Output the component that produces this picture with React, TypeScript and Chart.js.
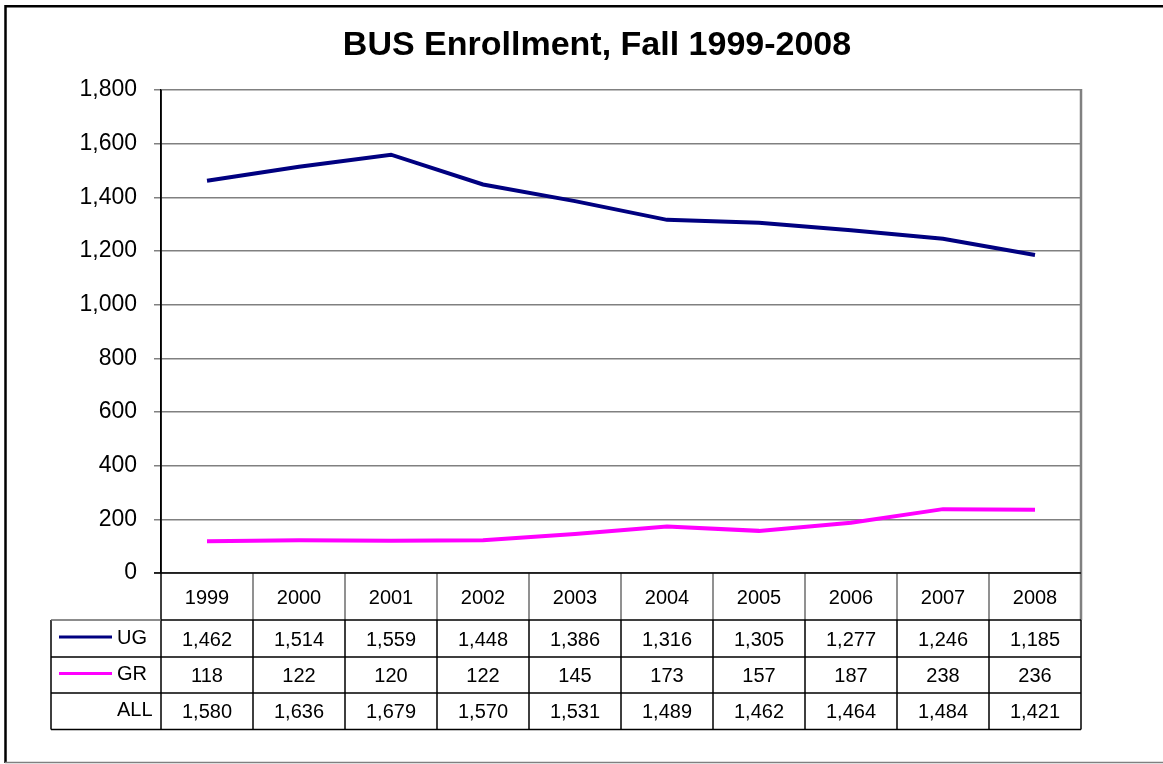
import React, { useEffect, useRef } from "react";
import { Chart, registerables } from "chart.js";

Chart.register(...registerables);

const TITLE = "BUS Enrollment, Fall 1999-2008";
const years = ["1999", "2000", "2001", "2002", "2003", "2004", "2005", "2006", "2007", "2008"];
const ugValues = [1462, 1514, 1559, 1448, 1386, 1316, 1305, 1277, 1246, 1185];
const grValues = [118, 122, 120, 122, 145, 173, 157, 187, 238, 236];
const allValues = [1580, 1636, 1679, 1570, 1531, 1489, 1462, 1464, 1484, 1421];
const yTicks = [0, 200, 400, 600, 800, 1000, 1200, 1400, 1600, 1800];

const UG_COLOR = "#000080";
const GR_COLOR = "#FF00FF";
const FONT = "'Liberation Sans', Arial, Helvetica, sans-serif";

const fmt = (v: number) => v.toLocaleString("en-US");

const framePlugin = {
  id: "frame",
  beforeDraw(chart: any) {
    const ctx = chart.ctx;
    ctx.save();
    ctx.fillStyle = "#ffffff";
    ctx.fillRect(0, 0, chart.width, chart.height);
    // outer chart frame
    ctx.strokeStyle = "#000";
    ctx.lineWidth = 2.5;
    ctx.beginPath();
    ctx.moveTo(5.5, 763);
    ctx.lineTo(5.5, 6.2);
    ctx.lineTo(chart.width, 6.2);
    ctx.stroke();
    ctx.strokeStyle = "#808080";
    ctx.lineWidth = 1.5;
    ctx.beginPath();
    ctx.moveTo(5, 762.5);
    ctx.lineTo(chart.width, 762.5);
    ctx.stroke();
    // title
    ctx.fillStyle = "#000";
    ctx.font = `bold 34px ${FONT}`;
    ctx.textAlign = "center";
    ctx.textBaseline = "alphabetic";
    ctx.fillText(TITLE, 597, 55);
    ctx.restore();
  },
};

const tablePlugin = {
  id: "dataTable",
  afterDraw(chart: any) {
    const ctx = chart.ctx;
    const { left, right, top, bottom } = chart.chartArea;
    const xs = chart.scales.x;
    const n = years.length;
    const centers = years.map((_, i) => xs.getPixelForValue(i));
    const half = (centers[1] - centers[0]) / 2;
    const edges = [left, ...centers.map((c) => c + half)];
    edges[n] = right;
    const rowEdges = [bottom, 620, 657, 693, 729.5];
    const tableLeft = 51;
    const legendX0 = 59;
    const legendX1 = 112;
    const labelX = 117;

    ctx.save();
    // plot right border
    ctx.strokeStyle = "#808080";
    ctx.lineWidth = 2.5;
    ctx.beginPath();
    ctx.moveTo(right, top - 1);
    ctx.lineTo(right, rowEdges[1]);
    ctx.stroke();

    // header row verticals (gray)
    ctx.lineWidth = 1.5;
    ctx.strokeStyle = "#6e6e6e";
    ctx.beginPath();
    for (let i = 1; i < n; i++) {
      ctx.moveTo(edges[i], rowEdges[0]);
      ctx.lineTo(edges[i], rowEdges[1]);
    }
    ctx.stroke();

    // black lines: axis at 0, left axis extension, data rows grid
    ctx.strokeStyle = "#000";
    ctx.lineWidth = 1.5;
    ctx.beginPath();
    ctx.moveTo(left - 7, bottom);
    ctx.lineTo(right, bottom);
    ctx.moveTo(left, top);
    ctx.lineTo(left, rowEdges[4]);
    for (let r = 1; r <= 4; r++) {
      ctx.moveTo(r === 1 ? left : tableLeft, rowEdges[r]);
      ctx.lineTo(right, rowEdges[r]);
    }
    ctx.moveTo(tableLeft, rowEdges[1]);
    ctx.lineTo(tableLeft, rowEdges[4]);
    for (let i = 1; i <= n; i++) {
      ctx.moveTo(edges[i], rowEdges[1]);
      ctx.lineTo(edges[i], rowEdges[4]);
    }
    ctx.stroke();
    ctx.strokeStyle = "#666";
    ctx.beginPath();
    ctx.moveTo(tableLeft, rowEdges[1]);
    ctx.lineTo(left, rowEdges[1]);
    ctx.stroke();

    // texts
    ctx.fillStyle = "#000";
    ctx.font = `20px ${FONT}`;
    ctx.textBaseline = "middle";
    ctx.textAlign = "center";
    const headerY = (rowEdges[0] + rowEdges[1]) / 2 + 1.5;
    years.forEach((y, i) => ctx.fillText(y, centers[i], headerY));
    const rows = [
      { label: "UG", values: ugValues, color: UG_COLOR },
      { label: "GR", values: grValues, color: GR_COLOR },
      { label: "ALL", values: allValues, color: null as string | null },
    ];
    rows.forEach((row, r) => {
      const cy = (rowEdges[r + 1] + rowEdges[r + 2]) / 2 + 1.5;
      ctx.textAlign = "center";
      ctx.fillStyle = "#000";
      row.values.forEach((v, i) => ctx.fillText(fmt(v), centers[i], cy));
      ctx.textAlign = "left";
      ctx.fillText(row.label, labelX, cy - 2);
      if (row.color) {
        ctx.strokeStyle = row.color;
        ctx.lineWidth = 3;
        ctx.beginPath();
        ctx.moveTo(legendX0, cy - 3);
        ctx.lineTo(legendX1, cy - 3);
        ctx.stroke();
      }
    });
    ctx.restore();
  },
};

export default function App() {
  const ref = useRef<HTMLCanvasElement | null>(null);

  useEffect(() => {
    if (!ref.current) return;
    const chart = new Chart(ref.current, {
      type: "line",
      data: {
        labels: years,
        datasets: [
          {
            label: "UG",
            data: ugValues,
            borderColor: UG_COLOR,
            backgroundColor: UG_COLOR,
            borderWidth: 4,
            pointRadius: 0,
            tension: 0,
          },
          {
            label: "GR",
            data: grValues,
            borderColor: GR_COLOR,
            backgroundColor: GR_COLOR,
            borderWidth: 4,
            pointRadius: 0,
            tension: 0,
          },
        ],
      },
      options: {
        animation: false,
        responsive: true,
        maintainAspectRatio: false,
        layout: { padding: { top: 90, right: 82, bottom: 191, left: 0 } },
        plugins: {
          legend: { display: false },
          title: { display: false },
          tooltip: { enabled: false },
        },
        scales: {
          x: {
            display: false,
            offset: true,
          },
          y: {
            min: 0,
            max: 1800,
            afterBuildTicks: (scale: any) => {
              scale.ticks = yTicks.map((v) => ({ value: v }));
            },
            afterFit: (scale: any) => {
              scale.width = 161;
            },
            ticks: {
              color: "#000",
              padding: 17,
              font: { family: FONT, size: 23 },
              callback: (v: any) => fmt(Number(v)),
            },
            grid: {
              color: "#808080",
              lineWidth: 1.5,
              tickLength: 7,
              drawTicks: true,
            },
            border: { color: "#000", width: 1.5 },
          },
        },
      },
      plugins: [framePlugin, tablePlugin],
    });
    return () => chart.destroy();
  }, []);

  return (
    <div style={{ position: "absolute", left: 0, top: 0, width: 1163, height: 764, background: "#fff" }}>
      <canvas ref={ref} />
    </div>
  );
}
